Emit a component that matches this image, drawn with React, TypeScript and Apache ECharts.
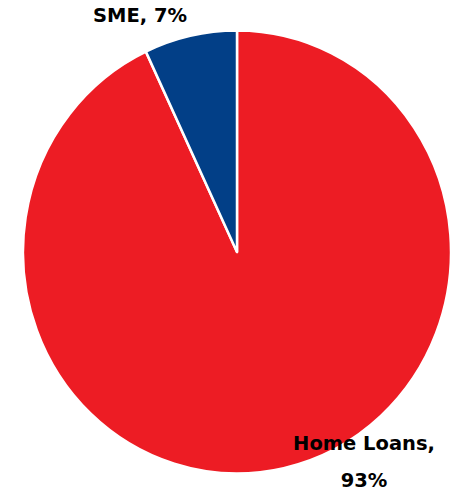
import React, { useEffect, useRef } from "react";
import * as echarts from "echarts";

const categories = ["Home Loans", "SME"];
const values = [93, 7];
const colors = ["#ED1C24", "#023F87"];

export default function App() {
  const ref = useRef<HTMLDivElement>(null);
  useEffect(() => {
    if (!ref.current) return;
    const chart = echarts.init(ref.current, undefined, { renderer: "svg" });
    chart.setOption({
      animation: false,
      backgroundColor: "#ffffff",
      series: [
        {
          type: "pie",
          center: [237, 252],
          radius: 214,
          startAngle: 90,
          clockwise: true,
          avoidLabelOverlap: false,
          data: categories.map((c, i) => ({
            name: c,
            value: values[i],
            itemStyle: { color: colors[i] },
          })),
          itemStyle: { borderColor: "#ffffff", borderWidth: 2.5 },
          label: {
            show: true,
            color: "#000000",
            fontFamily: "DejaVu Sans",
            fontWeight: "bold",
            fontSize: 19.5,
            lineHeight: 36,
            align: "center",
            formatter: (p: any) =>
              p.name === "SME" ? `${p.name}, ${p.value}%` : `${p.name},\n${p.value}%`,
          },
          labelLine: { show: false },
          labelLayout: (params: any) => {
            if (params.dataIndex === 1) {
              return { x: 140, y: 23, align: "center", verticalAlign: "middle" };
            }
            return { x: 364, y: 455, align: "center", verticalAlign: "middle" };
          },
        },
      ],
    });
    return () => chart.dispose();
  }, []);
  return (
    <div
      style={{ position: "absolute", left: 0, top: 0, width: 450, height: 491, overflow: "hidden", background: "#fff" }}
    >
      <div
        ref={ref}
        style={{
          width: 450,
          height: 491,
          transform: "scaleY(1.035)",
          transformOrigin: "0px 252px",
        }}
      />
    </div>
  );
}
